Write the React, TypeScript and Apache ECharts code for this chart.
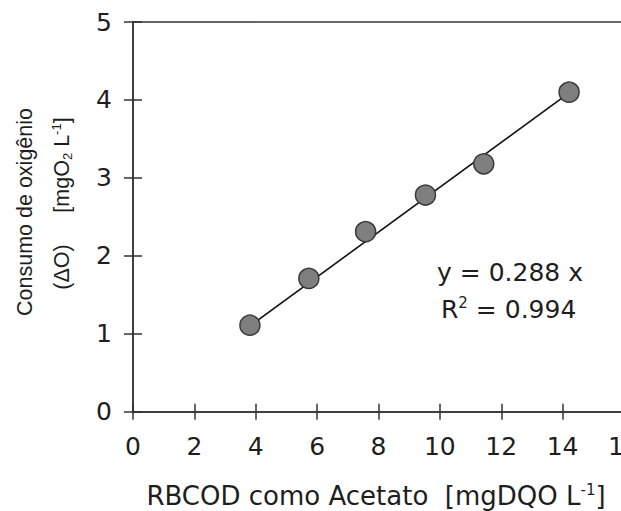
import React, { useEffect, useRef } from "react";
import * as echarts from "echarts";

// Measured data (RBCOD as acetate vs oxygen consumption)
const rbcodValues = [3.81, 5.73, 7.58, 9.53, 11.43, 14.21];
const oxygenValues = [1.11, 1.71, 2.31, 2.78, 3.18, 4.1];
// Fitted line endpoints
const fitX = [3.81, 14.21];
const fitY = [1.1, 4.09];
// Axis ranges
const xRange = { min: 0, max: 16, step: 2 };
const yRange = { min: 0, max: 5, step: 1 };
// Texts
const xTitle = "RBCOD como Acetato  [mgDQO L{sup|-1}]";
const yTitle1 = "Consumo de oxigênio";
const yTitle2a = "(ΔO)";
const yTitle2b = "[mgO{sub|2} L{sup|-1}]";
const eqLine1 = "y = 0.288 x";
const eqLine2 = "R{sup|2} = 0.994";

const AXIS = "#333333";
const TEXT = "#1e1e1e";
const TICK_FONT = "DejaVu Sans";

export default function App() {
  const ref = useRef<HTMLDivElement>(null);
  useEffect(() => {
    if (!ref.current) return;
    const chart = echarts.init(ref.current, null, { renderer: "svg" });
    const baseAxis = {
      type: "value" as const,
      splitLine: { show: false },
      axisLine: { show: true, lineStyle: { color: AXIS, width: 1.5 } },
    };
    const supRich = {
      sup: { fontSize: 15, verticalAlign: "top", fontFamily: TICK_FONT, fill: TEXT, lineHeight: 14 },
      sub: { fontSize: 15, verticalAlign: "bottom", fontFamily: TICK_FONT, fill: TEXT, lineHeight: 14 },
    };
    chart.setOption({
      animation: false,
      backgroundColor: "#ffffff",
      grid: {
        left: 133,
        top: 22,
        width: 491,
        height: 389.7,
        containLabel: false,
        outerBoundsMode: "none",
      },
      xAxis: [
        {
          ...baseAxis,
          min: xRange.min,
          max: xRange.max,
          interval: xRange.step,
          position: "bottom",
          axisTick: { show: true, inside: true, length: 8, lineStyle: { color: AXIS, width: 1.5 } },
          axisLabel: { show: true, margin: 22, fontSize: 25, fontFamily: TICK_FONT, color: TEXT, showMaxLabel: true, showMinLabel: true },
        },
        {
          ...baseAxis,
          min: xRange.min,
          max: xRange.max,
          interval: xRange.step,
          position: "bottom",
          axisTick: { show: true, inside: false, length: 8, lineStyle: { color: AXIS, width: 1.5 } },
          axisLabel: { show: false },
        },
        {
          ...baseAxis,
          min: xRange.min,
          max: xRange.max,
          interval: xRange.step,
          position: "top",
          axisTick: { show: false },
          axisLabel: { show: false },
        },
      ],
      yAxis: [
        {
          ...baseAxis,
          min: yRange.min,
          max: yRange.max,
          interval: yRange.step,
          position: "left",
          axisTick: { show: true, inside: false, length: 9, lineStyle: { color: AXIS, width: 1.5 } },
          axisLabel: { show: true, margin: 21, fontSize: 25, fontFamily: TICK_FONT, color: TEXT },
        },
        {
          ...baseAxis,
          min: yRange.min,
          max: yRange.max,
          interval: yRange.step,
          position: "left",
          axisTick: { show: true, inside: true, length: 9, lineStyle: { color: AXIS, width: 1.5 } },
          axisLabel: { show: false },
        },
      ],
      series: [
        {
          type: "line",
          xAxisIndex: 0,
          yAxisIndex: 0,
          data: fitX.map((x, i) => [x, fitY[i]]),
          showSymbol: false,
          symbol: "none",
          lineStyle: { color: "#111111", width: 1.6 },
          z: 2,
        },
        {
          type: "scatter",
          xAxisIndex: 0,
          yAxisIndex: 0,
          data: rbcodValues.map((x, i) => [x, oxygenValues[i]]),
          symbol: "circle",
          symbolSize: 20,
          itemStyle: { color: "#7f7f7f", borderColor: "#3a3a3a", borderWidth: 1.5, opacity: 1 },
          z: 3,
        },
      ],
      graphic: [
        {
          type: "text",
          x: 376,
          y: 496,
          style: {
            text: xTitle,
            fontSize: 26,
            fontFamily: TICK_FONT,
            fill: TEXT,
            align: "center",
            verticalAlign: "middle",
            lineHeight: 28,
            rich: supRich,
          },
        },
        {
          type: "text",
          x: 25,
          y: 212,
          rotation: Math.PI / 2,
          style: {
            text: yTitle1,
            fontSize: 21.5,
            fontFamily: "Liberation Sans",
            fill: TEXT,
            align: "center",
            verticalAlign: "middle",
          },
        },
        {
          type: "text",
          x: 62,
          y: 267,
          rotation: Math.PI / 2,
          style: {
            text: yTitle2a,
            fontSize: 21.5,
            fontFamily: "Liberation Sans",
            fill: TEXT,
            align: "center",
            verticalAlign: "middle",
          },
        },
        {
          type: "text",
          x: 62,
          y: 165,
          rotation: Math.PI / 2,
          style: {
            text: yTitle2b,
            fontSize: 21.5,
            fontFamily: "Liberation Sans",
            fill: TEXT,
            align: "center",
            verticalAlign: "middle",
            lineHeight: 24,
            rich: {
              sup: { fontSize: 13, verticalAlign: "top", fontFamily: "Liberation Sans", fill: TEXT, lineHeight: 12 },
              sub: { fontSize: 13, verticalAlign: "bottom", fontFamily: "Liberation Sans", fill: TEXT, lineHeight: 12 },
            },
          },
        },
        {
          type: "text",
          x: 437,
          y: 272,
          style: {
            text: eqLine1,
            fontSize: 25,
            fontFamily: TICK_FONT,
            fill: TEXT,
            align: "left",
            verticalAlign: "middle",
          },
        },
        {
          type: "text",
          x: 441,
          y: 309,
          style: {
            text: eqLine2,
            fontSize: 25,
            fontFamily: TICK_FONT,
            fill: TEXT,
            align: "left",
            verticalAlign: "middle",
            lineHeight: 28,
            rich: supRich,
          },
        },
      ],
    });
    return () => chart.dispose();
  }, []);
  return (
    <div
      ref={ref}
      style={{ position: "absolute", left: 0, top: 0, width: 621, height: 511 }}
    />
  );
}
